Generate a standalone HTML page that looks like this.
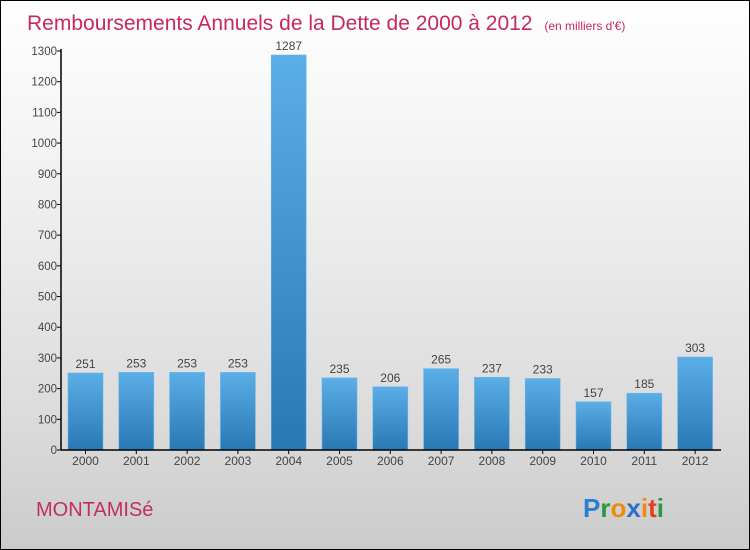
<!DOCTYPE html>
<html><head><meta charset="utf-8"><style>
html,body{margin:0;padding:0}
body{width:750px;height:550px;overflow:hidden;font-family:"Liberation Sans",sans-serif}
#wrap{position:absolute;left:0;top:0;width:748px;height:548px;border:1px solid #000;background:linear-gradient(#ffffff,#f2f2f2 30%,#dcdcdc 75%,#cbcbcb)}
</style></head><body>
<div id="wrap">
<svg id="svg" width="750" height="550" style="position:absolute;left:-1px;top:-1px">
<defs><linearGradient id="bg" x1="0" y1="0" x2="0" y2="1"><stop offset="0" stop-color="#5caee7"/><stop offset="1" stop-color="#2878b4"/></linearGradient></defs>
<text x="27" y="30" font-size="21" fill="#c8285a">Remboursements Annuels de la Dette de 2000 à 2012 <tspan font-size="12" dx="6">(en milliers d'€)</tspan></text>
<text x="36" y="516" font-size="20" fill="#c0305f">MONTAMISé</text>
<text x="583" y="517" font-size="26" font-weight="bold"><tspan fill="#2a7fd4">P</tspan><tspan fill="#2a9a3a">r</tspan><tspan fill="#f08a10">o</tspan><tspan fill="#2a6fc8">x</tspan><tspan fill="#f08a10">i</tspan><tspan fill="#e04020">t</tspan><tspan fill="#2a9a3a">i</tspan></text>
<g id="g"></g>
</svg></div>
<script>
const years=["2000","2001","2002","2003","2004","2005","2006","2007","2008","2009","2010","2011","2012"];
const values=[251,253,253,253,1287,235,206,265,237,233,157,185,303];
const yTicks=[0,100,200,300,400,500,600,700,800,900,1000,1100,1200,1300];
const NS="http://www.w3.org/2000/svg",g=document.getElementById('g');
const y0=450,y1=51,x0=61,x1=721;
const ys=v=>y0-(v/1300)*(y0-y1);
const xs=i=>68+i*50.8;
function el(t,a,txt){const e=document.createElementNS(NS,t);for(const k in a)e.setAttribute(k,a[k]);if(txt!==undefined)e.textContent=txt;g.appendChild(e);return e;}
values.forEach((v,i)=>{
 const r=el('rect',{x:xs(i),y:ys(v),width:35,height:y0-ys(v),fill:'url(#bg)',stroke:'#6bb8ec','stroke-width':0.6});
 
 
 const t=el('text',{x:xs(i)+17.5,y:ys(v)-5,'font-size':12,fill:'#444','text-anchor':'middle'},String(v));
 
 
 const xl=el('text',{x:xs(i)+17.5,y:465,'font-size':12,fill:'#444','text-anchor':'middle'},years[i]);
 
 
 el('line',{x1:xs(i)+17.5,x2:xs(i)+17.5,y1:y0,y2:y0+4,stroke:'#000'});
});
yTicks.forEach(v=>{
 el('line',{x1:x0-4,x2:x0,y1:ys(v),y2:ys(v),stroke:'#000'});
 const t=el('text',{x:x0-4,y:ys(v)+4,'font-size':11.5,fill:'#444','text-anchor':'end'},String(v));
 
 
});
const ya=el('line',{x1:x0,x2:x0,y1:y1-2,y2:y0,stroke:'#000','stroke-width':1.5});


const xa=el('line',{x1:x0,x2:x1,y1:y0,y2:y0,stroke:'#000','stroke-width':1.5});


</script>
</body></html>
